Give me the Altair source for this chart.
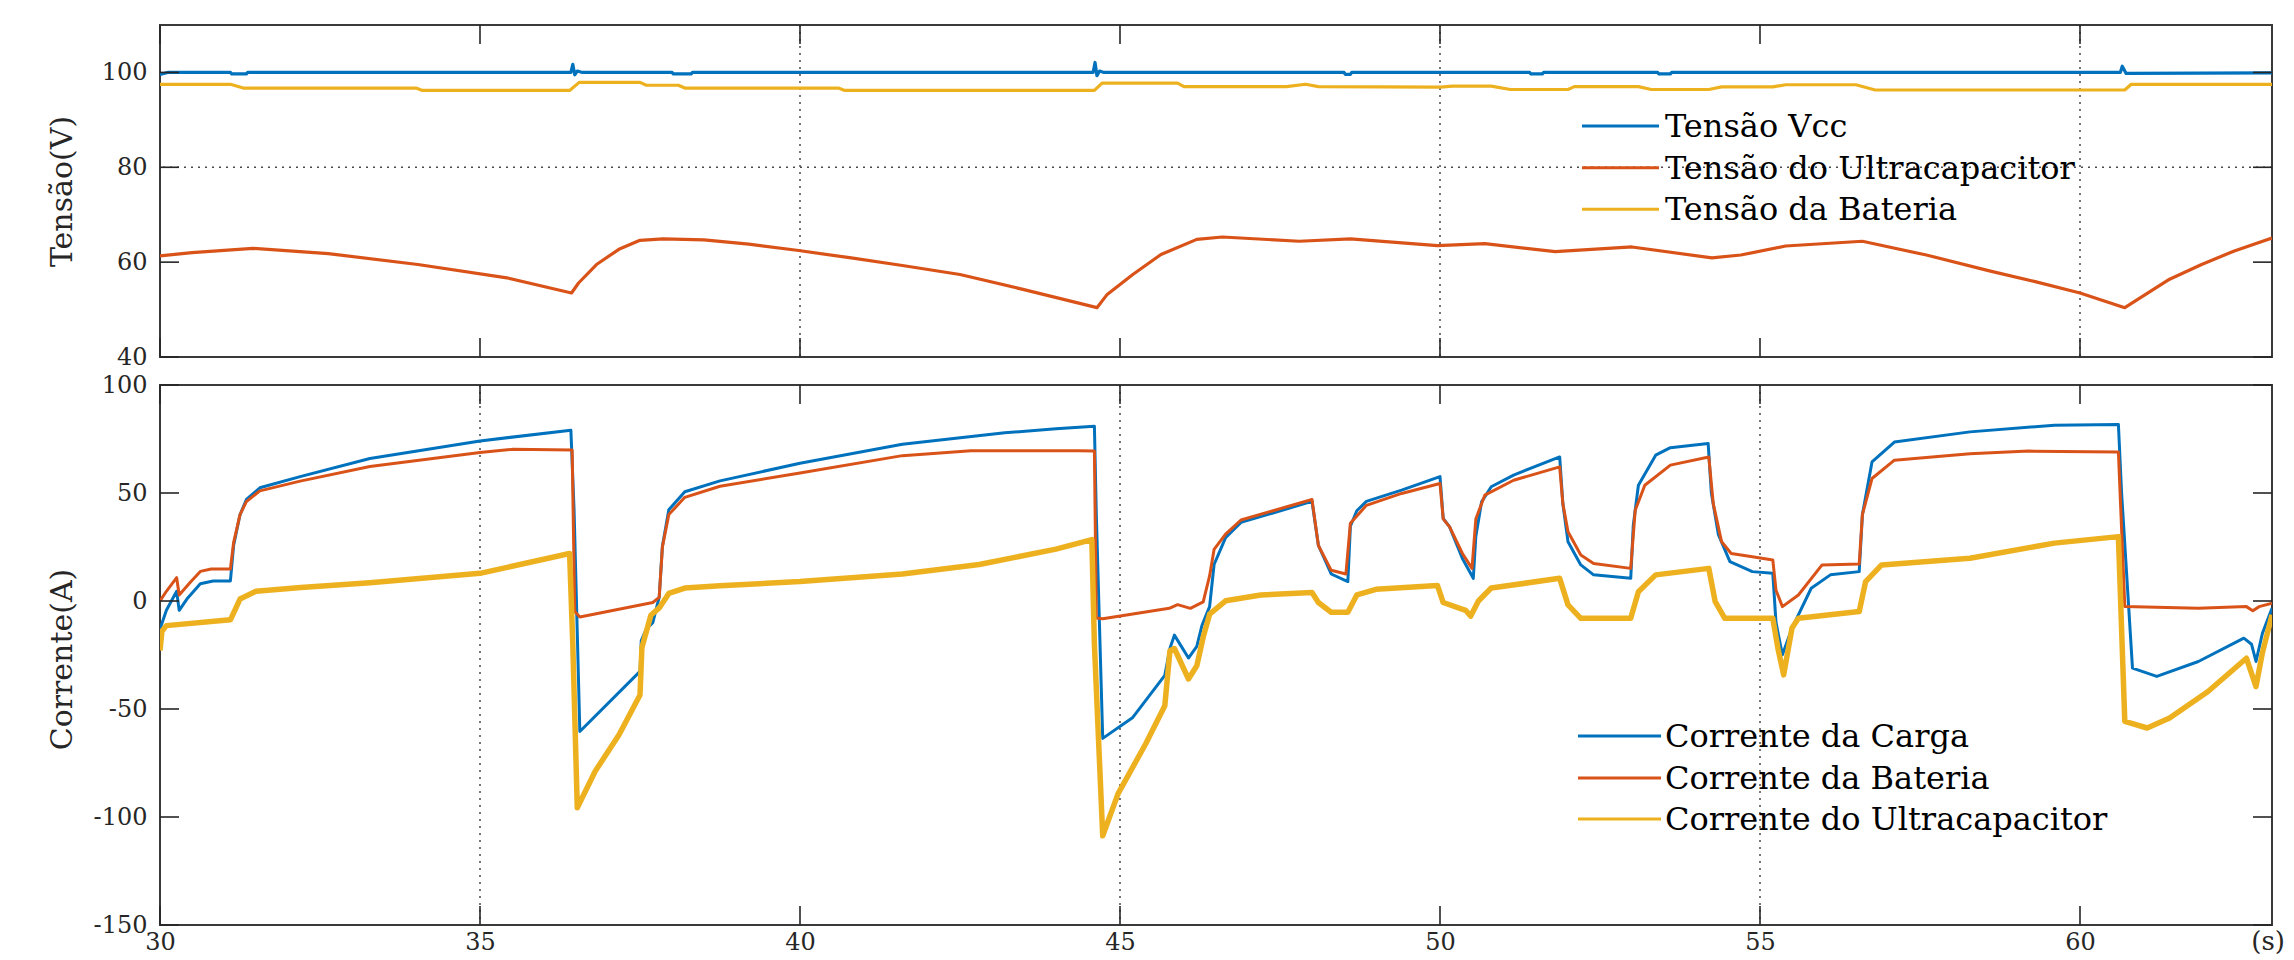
import altair as alt
import pandas as pd

# ---------------- data ----------------
top_series = ["Tensão Vcc", "Tensão do Ultracapacitor", "Tensão da Bateria"]
bot_series = ["Corrente da Carga", "Corrente da Bateria", "Corrente do Ultracapacitor"]
colors = ["#0072BD", "#D95319", "#EDB120"]

x_ticks = [30, 35, 40, 45, 50, 55, 60]
top_y_ticks = [40, 60, 80, 100]
bot_y_ticks = [-150, -100, -50, 0, 50, 100]
top_grid_x = [40, 50, 60]
top_grid_y = [80]
bot_grid_x = [35, 45, 55]
top_title = "Tensão(V)"
bot_title = "Corrente(A)"
unit_label = "(s)"

# Tensão Vcc
vcc_t = [30.0, 30.12, 31.1, 31.12, 31.35, 31.37, 36.42, 36.45, 36.48, 36.52,
         36.6, 38.0, 38.02, 38.3, 38.32, 44.58, 44.61, 44.64, 44.68, 44.75,
         48.5, 48.52, 48.6, 48.62, 51.4, 51.42, 51.6, 51.62, 53.4, 53.42,
         53.6, 53.62, 60.63, 60.66, 60.72, 63.0]
vcc_v = [99.6, 100.0, 100.0, 99.7, 99.7, 100.0, 100.0, 101.7, 99.5, 100.3,
         100.0, 100.0, 99.7, 99.7, 100.0, 100.0, 102.1, 99.3, 100.3, 100.0,
         100.0, 99.6, 99.6, 100.0, 100.0, 99.7, 99.7, 100.0, 100.0, 99.7,
         99.7, 100.0, 100.0, 101.3, 99.8, 99.9]

# Tensão do Ultracapacitor
uc_t = [30.0, 30.5, 31.45, 32.63, 34.03, 35.42, 36.43, 36.54, 36.82, 37.17,
        37.5, 37.86, 38.5, 39.2, 39.95, 40.8, 41.6, 42.5, 43.5, 44.64,
        44.8, 45.2, 45.64, 46.2, 46.6, 47.8, 48.6, 49.96, 50.7, 51.8,
        53.0, 54.25, 54.7, 55.4, 56.6, 57.6, 58.6, 59.3, 60.0, 60.7,
        61.4, 61.9, 62.4, 63.0]
uc_v = [61.3, 62.0, 62.9, 61.8, 59.5, 56.7, 53.5, 55.6, 59.5, 62.7,
        64.6, 64.9, 64.7, 63.8, 62.5, 60.9, 59.3, 57.4, 54.2, 50.4,
        53.2, 57.4, 61.6, 64.8, 65.3, 64.4, 64.9, 63.5, 63.9, 62.2,
        63.2, 60.9, 61.5, 63.4, 64.4, 61.5, 58.1, 55.9, 53.5, 50.4,
        56.4, 59.5, 62.3, 65.1]

# Tensão da Bateria
bat_t = [30.0, 31.1, 31.3, 34.0, 34.1, 36.4, 36.55, 37.5, 37.6, 38.1,
         38.2, 40.6, 40.7, 44.6, 44.72, 45.9, 46.0, 47.6, 47.9, 48.1,
         50.0, 50.2, 50.8, 51.1, 52.0, 52.1, 53.1, 53.3, 54.2, 54.4,
         55.2, 55.4, 56.5, 56.8, 60.7, 60.8, 63.0]
bat_v = [97.5, 97.5, 96.7, 96.7, 96.2, 96.2, 97.9, 97.9, 97.3, 97.3,
         96.7, 96.7, 96.2, 96.2, 97.75, 97.75, 97.0, 97.0, 97.5, 97.0,
         96.9, 97.1, 97.1, 96.4, 96.4, 97.0, 97.0, 96.4, 96.4, 96.95,
         96.95, 97.4, 97.4, 96.3, 96.3, 97.5, 97.5]

# Corrente da Carga
load_t = [30.0, 30.1, 30.26, 30.3, 30.42, 30.63, 30.83, 31.1, 31.15, 31.25,
          31.35, 31.56, 32.19, 33.28, 35.0, 36.42, 36.47, 36.56, 37.5, 37.52,
          37.6, 37.7, 37.8, 37.85, 37.95, 38.2, 38.75, 40.0, 41.6, 43.2,
          44.0, 44.6, 44.63, 44.73, 45.2, 45.7, 45.78, 45.85, 46.07, 46.2,
          46.28, 46.4, 46.47, 46.65, 46.89, 48.0, 48.1, 48.3, 48.56, 48.6,
          48.7, 48.85, 49.4, 50.0, 50.05, 50.15, 50.35, 50.52, 50.56, 50.65,
          50.8, 51.15, 51.87, 51.92, 52.0, 52.2, 52.4, 52.98, 53.02, 53.1,
          53.37, 53.6, 54.19, 54.24, 54.35, 54.53, 54.88, 55.2, 55.25, 55.35,
          55.5, 55.8, 56.1, 56.55, 56.6, 56.75, 57.1, 58.28, 59.6, 60.6,
          60.65, 60.82, 61.2, 61.85, 62.56, 62.68, 62.75, 62.85, 63.0]
load_v = [-13.0, -4.3, 4.5, -4.3, 0.9, 8.0, 9.3, 9.3, 25.7, 39.9,
          47.0, 52.4, 57.6, 66.0, 74.1, 79.1, 42.0, -60.4, -32.6, -18.3,
          -12.9, -10.0, 1.8, 25.4, 42.2, 50.6, 55.6, 63.8, 72.6, 77.9,
          79.7, 80.9, 40.0, -63.6, -53.9, -34.4, -22.0, -15.8, -26.4, -21.0,
          -11.4, -2.6, 16.9, 29.3, 36.4, 46.1, 25.7, 12.5, 9.0, 34.6,
          41.8, 46.1, 51.3, 57.6, 38.2, 34.3, 19.7, 10.5, 30.0, 45.9,
          52.9, 58.3, 66.7, 45.0, 27.4, 16.7, 12.1, 10.5, 35.0, 53.6,
          67.5, 71.0, 72.9, 50.0, 30.7, 18.2, 13.6, 12.8, -10.0, -24.9,
          -12.6, 5.9, 12.1, 13.6, 40.0, 64.4, 73.6, 78.3, 81.4, 81.7,
          50.0, -31.1, -34.9, -28.0, -17.2, -20.0, -28.0, -15.0, -3.4]

# Corrente da Bateria
batc_t = [30.0, 30.1, 30.26, 30.3, 30.47, 30.63, 30.8, 31.1, 31.15, 31.25,
          31.35, 31.56, 32.19, 33.28, 35.0, 35.5, 36.44, 36.48, 36.56, 37.7,
          37.8, 37.85, 37.95, 38.2, 38.75, 40.0, 41.6, 42.67, 44.35, 44.6,
          44.63, 44.73, 45.77, 45.9, 46.1, 46.3, 46.4, 46.47, 46.65, 46.89,
          48.0, 48.1, 48.3, 48.53, 48.6, 48.85, 49.4, 50.0, 50.05, 50.15,
          50.35, 50.5, 50.56, 50.7, 51.15, 51.87, 51.92, 52.0, 52.2, 52.4,
          52.98, 53.05, 53.2, 53.6, 54.2, 54.27, 54.4, 54.55, 54.88, 55.2,
          55.25, 55.35, 55.6, 55.97, 56.55, 56.6, 56.75, 57.1, 58.28, 59.2,
          60.6, 60.7, 61.85, 62.6, 62.7, 62.8, 63.0]
batc_v = [0.0, 4.5, 10.8, 2.8, 8.6, 13.7, 14.8, 14.8, 27.0, 40.0,
          46.0, 51.0, 55.5, 62.3, 68.7, 70.2, 69.9, -4.9, -7.4, -0.7,
          1.7, 25.0, 40.0, 48.0, 53.1, 59.3, 67.3, 69.6, 69.6, 69.4,
          -7.9, -8.2, -3.4, -1.7, -3.4, -0.4, 11.6, 23.9, 31.0, 37.5,
          47.0, 25.7, 14.2, 12.5, 36.0, 44.3, 49.8, 54.4, 38.0, 34.3,
          22.0, 15.1, 38.0, 49.0, 55.9, 62.1, 45.0, 32.1, 21.3, 17.4,
          15.1, 42.0, 53.6, 62.9, 66.7, 45.0, 27.4, 22.0, 20.5, 19.0,
          5.0, -2.6, 2.8, 16.7, 17.1, 40.0, 56.7, 65.2, 68.2, 69.4,
          69.0, -2.6, -3.4, -2.6, -4.5, -2.6, -1.0]

# Corrente do Ultracapacitor
ucc_t = [30.0, 30.03, 30.1, 31.1, 31.25, 31.5, 32.2, 33.28, 35.0, 36.4,
         36.45, 36.52, 36.8, 37.17, 37.5, 37.53, 37.67, 37.8, 37.95, 38.2,
         38.75, 40.0, 41.6, 42.8, 44.0, 44.56, 44.6, 44.73, 44.97, 45.4,
         45.7, 45.78, 45.85, 46.07, 46.2, 46.3, 46.4, 46.65, 47.2, 48.0,
         48.1, 48.3, 48.56, 48.7, 49.0, 49.96, 50.05, 50.4, 50.48, 50.6,
         50.8, 51.87, 52.0, 52.2, 52.98, 53.1, 53.37, 54.2, 54.3, 54.45,
         55.2, 55.28, 55.37, 55.5, 55.6, 56.55, 56.65, 56.9, 58.28, 59.6,
         60.6, 60.7, 61.05, 61.4, 62.0, 62.6, 62.75, 62.85, 63.0]
ucc_v = [-22.9, -14.0, -11.4, -8.7, 0.9, 4.5, 6.3, 8.5, 12.8, 22.0,
         -20.0, -95.7, -78.8, -62.0, -43.5, -21.5, -6.6, -3.2, 3.5, 6.0,
         7.1, 9.0, 12.5, 16.9, 24.0, 28.4, -20.0, -108.7, -89.2, -66.2,
         -48.5, -23.0, -22.0, -36.1, -30.0, -16.7, -6.1, 0.1, 2.8, 3.9,
         -0.7, -5.2, -5.2, 2.8, 5.4, 7.2, -0.7, -4.3, -7.0, 0.0,
         6.0, 10.5, -1.8, -8.0, -8.0, 4.3, 12.1, 15.1, -0.3, -8.0,
         -8.0, -21.9, -34.2, -12.5, -8.0, -4.9, 9.0, 16.7, 19.8, 26.8,
         29.8, -55.7, -58.8, -54.2, -41.9, -26.5, -39.6, -24.0, -6.4]

# ---------------- layout / style ----------------
FONT = "DejaVu Serif"
W = 2112
H1 = 332
H2 = 540
TICK = 19
TXT = "#262626"
X_DOMAIN = [30, 63]


def long_df(names, pairs, widths):
    rows = []
    for name, (ts, vs), w in zip(names, pairs, widths):
        for i, (t, v) in enumerate(zip(ts, vs)):
            rows.append({"series": name, "t": t, "v": v, "i": i, "w": w})
    return pd.DataFrame(rows)


top_df = long_df(top_series, [(vcc_t, vcc_v), (uc_t, uc_v), (bat_t, bat_v)], [3.2, 3.2, 3.2])
bot_df = long_df(bot_series, [(load_t, load_v), (batc_t, batc_v), (ucc_t, ucc_v)], [3, 3, 5.5])

label_expr = "datum.value < 0 ? '-' + format(-datum.value, 'd') : format(datum.value, 'd')"


def panel(df, names, ydom, yticks, gx, gy, title, title_y, H,
          show_x, leg_rows, leg_x0, leg_x1, leg_tx):
    xs = alt.Scale(domain=X_DOMAIN, nice=False, zero=False)
    ys = alt.Scale(domain=ydom, nice=False, zero=False)
    if show_x:
        xaxis = alt.Axis(values=x_ticks, ticks=False, domain=False, grid=False,
                         labelFont=FONT, labelFontSize=24, labelColor=TXT,
                         labelPadding=5, labelFlush=False, labelOverlap=False,
                         title=None)
    else:
        xaxis = None
    yaxis = alt.Axis(values=yticks, ticks=False, domain=False, grid=False,
                     labelFont=FONT, labelFontSize=24, labelColor=TXT,
                     labelPadding=13, labelFlush=False, labelOverlap=False,
                     labelExpr=label_expr,
                     title=title, titleFont=FONT, titleFontSize=30,
                     titleFontWeight="normal", titleColor=TXT,
                     titleX=-98, titleY=title_y, titleAngle=270,
                     titleAlign="center", titleBaseline="middle")

    def X(field="t"):
        return alt.X(f"{field}:Q", scale=xs, axis=xaxis)

    def Y(field="v"):
        return alt.Y(f"{field}:Q", scale=ys, axis=yaxis)

    layers = []
    # dotted grid lines
    if gy:
        layers.append(
            alt.Chart(pd.DataFrame({"v": gy})).mark_rule(
                color="#4a4a4a", strokeWidth=1.5, strokeDash=[2, 5]
            ).encode(y=Y())
        )
    if gx:
        layers.append(
            alt.Chart(pd.DataFrame({"t": gx})).mark_rule(
                color="#4a4a4a", strokeWidth=1.5, strokeDash=[2, 5]
            ).encode(x=X())
        )
    # data lines
    layers.append(
        alt.Chart(df).mark_line(clip=True, strokeJoin="round").encode(
            x=X(), y=Y(),
            color=alt.Color("series:N", scale=alt.Scale(domain=names, range=colors), legend=None),
            strokeWidth=alt.StrokeWidth("w:Q", scale=None, legend=None),
            order=alt.Order("i:Q"),
        )
    )
    # inward ticks (MATLAB style)
    xt = pd.DataFrame({"t": x_ticks})
    yt = pd.DataFrame({"v": yticks})
    tick_style = dict(color=TXT, strokeWidth=1.6)
    layers.append(alt.Chart(xt).mark_rule(**tick_style).encode(
        x=X(), y=alt.value(0), y2=alt.value(TICK)))
    layers.append(alt.Chart(xt).mark_rule(**tick_style).encode(
        x=X(), y=alt.value(H), y2=alt.value(H - TICK)))
    layers.append(alt.Chart(yt).mark_rule(**tick_style).encode(
        y=Y(), x=alt.value(0), x2=alt.value(TICK)))
    layers.append(alt.Chart(yt).mark_rule(**tick_style).encode(
        y=Y(), x=alt.value(W), x2=alt.value(W - TICK)))
    # legend box entries
    for name, col, yy in zip(names, colors, leg_rows):
        one = pd.DataFrame({"label": [name]})
        layers.append(alt.Chart(one).mark_rule(color=col, strokeWidth=3).encode(
            x=alt.value(leg_x0), x2=alt.value(leg_x1), y=alt.value(yy)))
        layers.append(alt.Chart(one).mark_text(
            font=FONT, fontSize=32, color="black", align="left", baseline="middle", dy=1
        ).encode(text="label:N", x=alt.value(leg_tx), y=alt.value(yy)))
    if show_x:
        layers.append(alt.Chart(pd.DataFrame({"u": [unit_label]})).mark_text(
            font=FONT, fontSize=26, color=TXT, align="right", baseline="top"
        ).encode(text="u:N", x=alt.value(W + 13), y=alt.value(H + 4)))
    return alt.layer(*layers).properties(width=W, height=H)


top = panel(top_df, top_series, [40, 110], top_y_ticks, top_grid_x, top_grid_y,
            top_title, H1 / 2, H1, False, [101, 142.7, 184.3], 1422, 1499, 1505)
bottom = panel(bot_df, bot_series, [-150, 100], bot_y_ticks, bot_grid_x, [],
               bot_title, 274, H2, True, [351, 393, 434], 1418, 1501, 1505)

chart = alt.vconcat(top, bottom, spacing=28, bounds="flush").properties(
    padding={"left": 38, "top": 15, "right": 0, "bottom": 0}
).configure_view(stroke="#3a3a3a", strokeWidth=2)

chart.save("out.html", embed_options={"renderer": "svg", "actions": False})
